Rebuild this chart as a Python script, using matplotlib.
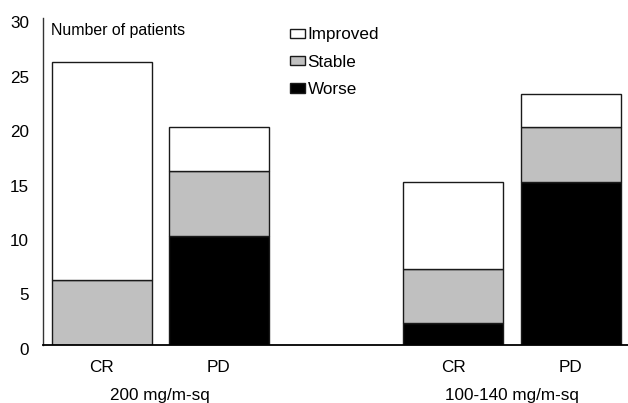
import numpy as np
import matplotlib.pyplot as plt
import matplotlib.transforms as mtransforms

plt.rcParams['font.family'] = ['Liberation Sans', 'DejaVu Sans']

# data
bar_labels = ["CR", "PD", "CR", "PD"]
group_labels = ["200 mg/m-sq", "100-140 mg/m-sq"]
worse = [0, 10, 2, 15]
stable = [6, 6, 5, 5]
improved = [20, 4, 8, 3]

x = np.array([0, 1, 3, 4])
width = 0.853

fig = plt.figure(figsize=(6.28, 4.03), dpi=100)
ax = fig.add_axes([0.0685, 0.144, 0.9315, 0.811])

worse = np.array(worse)
stable = np.array(stable)
improved = np.array(improved)

kw = dict(width=width, edgecolor="#1a1a1a", linewidth=1.0)
h_w = ax.bar(x, worse, color="black", label="Worse", **kw)
h_s = ax.bar(x, stable, bottom=worse, color="#c0c0c0", label="Stable", **kw)
h_i = ax.bar(x, improved, bottom=worse + stable, color="white", label="Improved", **kw)

ax.set_ylim(0, 30)
ax.set_xlim(-0.5, 4.49)
ax.set_yticks([0, 5, 10, 15, 20, 25, 30])
ax.tick_params(axis="y", length=0, labelsize=12.3, pad=10)
# labels in the original sit a few pixels below their tick positions
shift = mtransforms.ScaledTranslation(0, -4 / 100, fig.dpi_scale_trans)
for lab in ax.get_yticklabels():
    lab.set_transform(lab.get_transform() + shift)

ax.set_xticks(x)
ax.set_xticklabels(bar_labels, fontsize=12.3)
ax.tick_params(axis="x", length=0, pad=11)

for s in ["top", "right"]:
    ax.spines[s].set_visible(False)
ax.spines["left"].set_linewidth(1.0)
ax.spines["left"].set_color("#333333")
ax.spines["bottom"].set_linewidth(1.3)

# group labels
for gx, gl in zip([0.5, 3.5], group_labels):
    ax.text(gx, -0.155, gl, transform=ax.get_xaxis_transform(),
            ha="center", va="center", fontsize=12.3)

ax.text(0.0137, 0.962, "Number of patients", transform=ax.transAxes,
        ha="left", va="center", fontsize=11.4)

ax.legend([h_i, h_s, h_w], ["Improved", "Stable", "Worse"],
          loc="upper left", bbox_to_anchor=(0.422, 0.972), frameon=False,
          fontsize=12.3, handlelength=0.88, handleheight=0.47,
          handletextpad=0.15, labelspacing=0.72, borderpad=0,
          borderaxespad=0)

fig.savefig("out.png", dpi=100)
